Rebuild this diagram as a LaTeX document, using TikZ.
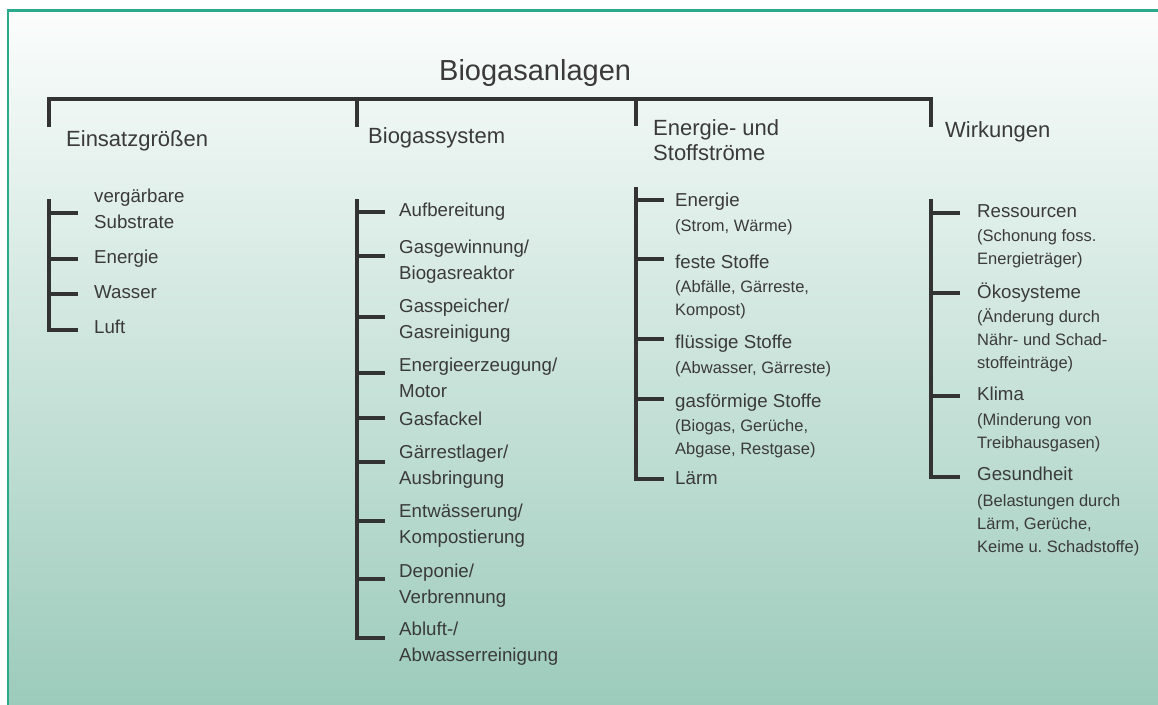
\documentclass[tikz,border=0pt]{standalone}
\usepackage{fontspec}
\setmainfont{Liberation Sans}
\definecolor{rahmen}{HTML}{2AAA8A}
\definecolor{oben}{HTML}{FBFDFC}
\definecolor{unten}{HTML}{9CCBBB}
\definecolor{strich}{HTML}{333333}
\definecolor{schrift}{HTML}{3A3A3A}
\tikzset{
  bar/.style={draw=strich, line width=4pt},
  titel/.style={anchor=base west, inner sep=0pt, text=schrift, font=\fontsize{29}{34}\selectfont},
  kopf/.style={anchor=base west, inner sep=0pt, text=schrift, align=left, font=\fontsize{22}{25}\selectfont},
  posten/.style={anchor=base west, inner sep=0pt, text=schrift, align=left, font=\fontsize{18.7}{25.5}\selectfont},
  notiz/.style={anchor=base west, inner sep=0pt, text=schrift, align=left, font=\fontsize{16.5}{22.8}\selectfont}
}

\begin{document}
\begin{tikzpicture}[x=1pt, y=-1pt]
    \useasboundingbox (0,0) rectangle (1158,704);
    \fill[white] (0,0) rectangle (1158,704);
    \shade[top color=oben, bottom color=unten] (7.8,10.5) rectangle (1160,706);
    \draw[rahmen, line width=2.5pt] (1160,10.5) -- (7.8,10.5) -- (7.8,706);

    % Kopf (bei mehrzeiligen Knoten liegt base auf der letzten Zeile)
    \node[titel] (Titel) at (439,80) {Biogasanlagen};
    \node[kopf] (Eins) at (66,146) {Einsatzgrößen};
    \node[kopf] (Sys) at (368,143) {Biogassystem};
    \node[kopf] (Strom) at (653,160) {Energie- und\\Stoffströme};
    \node[kopf] (Wirk) at (945,137) {Wirkungen};
    \coordinate (Bar) at (490,99);
    \coordinate (d1) at (49,127);
    \coordinate (d2) at (357,127);
    \coordinate (d3) at (636,126);
    \coordinate (d4) at (931,127);
    \draw[bar] (d1) -- (d1 |- Bar) -- (d4 |- Bar) -- (d4);
    \draw[bar] (d2 |- Bar) -- (d2);
    \draw[bar] (d3 |- Bar) -- (d3);

    % Einsatzgrößen
    \node[posten] (E1) at (94,228) {vergärbare\\Substrate};
    \node[posten] (E2) at (94,263) {Energie};
    \node[posten] (E3) at (94,298) {Wasser};
    \node[posten] (E4) at (94,333) {Luft};
    \coordinate (s1) at (49,199);
    \coordinate (t11) at (78,213);
    \coordinate (t12) at (78,259);
    \coordinate (t13) at (78,294);
    \coordinate (t14) at (78,330);
    \draw[bar] (s1) |- (t14);
    \draw[bar] (s1 |- t11) -- (t11);
    \draw[bar] (s1 |- t12) -- (t12);
    \draw[bar] (s1 |- t13) -- (t13);

    % Biogassystem
    \node[posten] (B1) at (399,216) {Aufbereitung};
    \node[posten] (B2) at (399,279) {Gasgewinnung/\\Biogasreaktor};
    \node[posten] (B3) at (399,338) {Gasspeicher/\\Gasreinigung};
    \node[posten] (B4) at (399,397) {Energieerzeugung/\\Motor};
    \node[posten] (B5) at (399,425) {Gasfackel};
    \node[posten] (B6) at (399,484) {Gärrestlager/\\Ausbringung};
    \node[posten] (B7) at (399,543) {Entwässerung/\\Kompostierung};
    \node[posten] (B8) at (399,603) {Deponie/\\Verbrennung};
    \node[posten] (B9) at (399,661) {Abluft-/\\Abwasserreinigung};
    \coordinate (s2) at (357,199);
    \coordinate (t21) at (385,212);
    \coordinate (t22) at (385,256);
    \coordinate (t23) at (385,317);
    \coordinate (t24) at (385,373);
    \coordinate (t25) at (385,418);
    \coordinate (t26) at (385,462);
    \coordinate (t27) at (385,521);
    \coordinate (t28) at (385,579);
    \coordinate (t29) at (385,638);
    \draw[bar] (s2) |- (t29);
    \draw[bar] (s2 |- t21) -- (t21);
    \draw[bar] (s2 |- t22) -- (t22);
    \draw[bar] (s2 |- t23) -- (t23);
    \draw[bar] (s2 |- t24) -- (t24);
    \draw[bar] (s2 |- t25) -- (t25);
    \draw[bar] (s2 |- t26) -- (t26);
    \draw[bar] (s2 |- t27) -- (t27);
    \draw[bar] (s2 |- t28) -- (t28);

    % Energie- und Stoffströme
    \node[posten] (S1) at (675,206) {Energie};
    \node[notiz] (n1) at (675,231) {(Strom, Wärme)};
    \node[posten] (S2) at (675,268) {feste Stoffe};
    \node[notiz] (n2) at (675,315) {(Abfälle, Gärreste,\\Kompost)};
    \node[posten] (S3) at (675,348) {flüssige Stoffe};
    \node[notiz] (n3) at (675,373) {(Abwasser, Gärreste)};
    \node[posten] (S4) at (675,407) {gasförmige Stoffe};
    \node[notiz] (n4) at (675,454) {(Biogas, Gerüche,\\Abgase, Restgase)};
    \node[posten] (S5) at (675,484) {Lärm};
    \coordinate (s3) at (636,187);
    \coordinate (t31) at (664,200);
    \coordinate (t32) at (664,259);
    \coordinate (t33) at (664,339);
    \coordinate (t34) at (664,399);
    \coordinate (t35) at (664,479);
    \draw[bar] (s3) |- (t35);
    \draw[bar] (s3 |- t31) -- (t31);
    \draw[bar] (s3 |- t32) -- (t32);
    \draw[bar] (s3 |- t33) -- (t33);
    \draw[bar] (s3 |- t34) -- (t34);

    % Wirkungen
    \node[posten] (W1) at (977,217) {Ressourcen};
    \node[notiz] (m1) at (977,264) {(Schonung foss.\\Energieträger)};
    \node[posten] (W2) at (977,298) {Ökosysteme};
    \node[notiz] (m2) at (977,368) {(Änderung durch\\Nähr- und Schad-\\stoffeinträge)};
    \node[posten] (W3) at (977,400) {Klima};
    \node[notiz] (m3) at (977,448) {(Minderung von\\Treibhausgasen)};
    \node[posten] (W4) at (977,480) {Gesundheit};
    \node[notiz] (m4) at (977,552) {(Belastungen durch\\Lärm, Gerüche,\\Keime u.\ Schadstoffe)};
    \coordinate (s4) at (931,199);
    \coordinate (t41) at (960,213);
    \coordinate (t42) at (960,293);
    \coordinate (t43) at (960,396);
    \coordinate (t44) at (960,477);
    \draw[bar] (s4) |- (t44);
    \draw[bar] (s4 |- t41) -- (t41);
    \draw[bar] (s4 |- t42) -- (t42);
    \draw[bar] (s4 |- t43) -- (t43);
\end{tikzpicture}
\end{document}
